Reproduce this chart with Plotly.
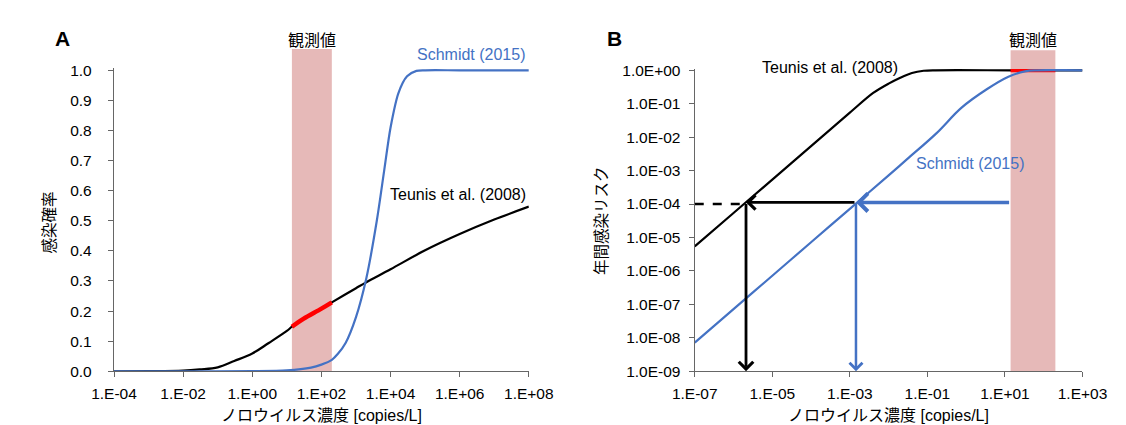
import numpy as np
import plotly.graph_objects as go

# ---------------- data ----------------
# Panel A: infection probability vs norovirus concentration
conc_a_teunis = [1e-4, 1e-3, 1e-2, 0.03, 0.1, 0.3, 1, 3, 10, 14, 30, 100, 200,
                 1e3, 2e3, 1e4, 1e5, 1e6, 1e7, 1e8]
prob_teunis = [0.0, 0.0003, 0.002, 0.006, 0.013, 0.034, 0.059, 0.094, 0.134, 0.148,
               0.174, 0.208, 0.229, 0.276, 0.296, 0.339, 0.402, 0.456, 0.504, 0.547]

conc_a_schmidt = [1e-4, 1e-2, 1, 10, 50, 100, 200, 300, 500, 1000, 2000, 4000, 6600,
                  1e4, 1.7e4, 3e4, 5.6e4, 1e5, 1e6, 1e8]
prob_schmidt = [0.0, 0.0, 0.0005, 0.003, 0.012, 0.022, 0.038, 0.058, 0.094, 0.18,
                0.31, 0.50, 0.67, 0.81, 0.925, 0.98, 0.998, 1.0, 1.0, 1.0]

# Panel B: annual infection risk vs norovirus concentration
conc_b_teunis = [1e-7, 1e-6, 1e-5, 1e-4, 1e-3, 4e-3, 1e-2, 2e-2, 4e-2, 8e-2, 0.16,
                 14, 200, 1e3]
risk_teunis = [5.4e-6, 5.4e-5, 5.4e-4, 5.4e-3, 0.054, 0.21, 0.40, 0.60, 0.83, 0.966,
               1.0, 1.0, 1.0, 1.0]

conc_b_schmidt = [1e-7, 1e-6, 1e-5, 1e-4, 1e-3, 1e-2, 0.03, 0.17, 0.75, 3.4, 12.3,
                  33, 70, 1e3]
risk_schmidt = [7.2e-9, 7.2e-8, 7.2e-7, 7.2e-6, 7.2e-5, 7.2e-4, 2.2e-3, 0.013,
                0.075, 0.27, 0.64, 0.93, 1.0, 1.0]

# observed concentration range (shaded band)
observed_range = [14, 200]

# target annual risk and the concentrations that meet it
target_risk = 1e-4
target_risk_arrow = 1.12e-4
conc_at_target_teunis = 2.1e-6
conc_at_target_schmidt = 1.44e-3

xticks_a = [1e-4, 1e-2, 1, 1e2, 1e4, 1e6, 1e8]
xticktext_a = ["1.E-04", "1.E-02", "1.E+00", "1.E+02", "1.E+04", "1.E+06", "1.E+08"]
yticks_a = [i / 10 for i in range(11)]
yticktext_a = ["0.0", "0.1", "0.2", "0.3", "0.4", "0.5", "0.6", "0.7", "0.8", "0.9", "1.0"]
xticks_b = [1e-7, 1e-5, 1e-3, 1e-1, 1e1, 1e3]
xticktext_b = ["1.E-07", "1.E-05", "1.E-03", "1.E-01", "1.E+01", "1.E+03"]
yticks_b = [1e0, 1e-1, 1e-2, 1e-3, 1e-4, 1e-5, 1e-6, 1e-7, 1e-8, 1e-9]
yticktext_b = ["1.0E+00", "1.0E-01", "1.0E-02", "1.0E-03", "1.0E-04", "1.0E-05",
               "1.0E-06", "1.0E-07", "1.0E-08", "1.0E-09"]

# ---------------- styling ----------------
W, H = 1126, 425
BLUE = "#4472C4"
RED = "#FF0000"
BAND = "#E6B9B8"
AXC = "#666666"
FONT = "Liberation Sans, Arial, Noto Sans CJK JP"
JFONT = "Liberation Sans, Noto Sans CJK JP"


def px(x):
    return x / W


def py(y):
    return 1 - y / H


fig = go.Figure()

# ---- Panel A ----
fig.add_trace(go.Scatter(x=conc_a_teunis, y=prob_teunis, mode="lines",
                         line=dict(color="black", width=2.2, shape="spline", smoothing=1.0),
                         xaxis="x", yaxis="y", hoverinfo="skip"))
ta = np.array(conc_a_teunis)
mask = (ta >= observed_range[0]) & (ta <= observed_range[1])
fig.add_trace(go.Scatter(x=ta[mask], y=np.array(prob_teunis)[mask], mode="lines",
                         line=dict(color=RED, width=4.5, shape="spline", smoothing=1.0),
                         xaxis="x", yaxis="y", hoverinfo="skip"))
fig.add_trace(go.Scatter(x=conc_a_schmidt, y=prob_schmidt, mode="lines",
                         line=dict(color=BLUE, width=2.2, shape="spline", smoothing=0.8),
                         xaxis="x", yaxis="y", hoverinfo="skip"))

# ---- Panel B ----
fig.add_trace(go.Scatter(x=[conc_b_teunis[0], conc_at_target_teunis],
                         y=[target_risk, target_risk], mode="lines",
                         line=dict(color="black", width=2.5, dash="dash"),
                         xaxis="x2", yaxis="y2", hoverinfo="skip"))
fig.add_trace(go.Scatter(x=conc_b_teunis, y=risk_teunis, mode="lines",
                         line=dict(color="black", width=2.2, shape="spline", smoothing=0.9),
                         xaxis="x2", yaxis="y2", hoverinfo="skip"))
tb = np.array(conc_b_teunis)
maskb = (tb >= observed_range[0]) & (tb <= observed_range[1])
fig.add_trace(go.Scatter(x=tb[maskb], y=np.array(risk_teunis)[maskb], mode="lines",
                         line=dict(color=RED, width=4),
                         xaxis="x2", yaxis="y2", hoverinfo="skip"))
fig.add_trace(go.Scatter(x=conc_b_schmidt, y=risk_schmidt, mode="lines",
                         line=dict(color=BLUE, width=2.2, shape="spline", smoothing=1.0),
                         xaxis="x2", yaxis="y2", hoverinfo="skip"))

# shaded bands (observed values)
for xr in ("x", "x2"):
    yr = "y domain" if xr == "x" else "y2 domain"
    fig.add_shape(type="rect", xref=xr, yref=yr,
                  x0=observed_range[0], x1=observed_range[1], y0=0, y1=1.062,
                  fillcolor=BAND, line=dict(width=0), layer="below")

# arrows in panel B
L = np.log10


def arrow(x_tip, y_tip, x_tail, y_tail, color, width):
    fig.add_annotation(x=L(x_tip), y=L(y_tip), ax=L(x_tail), ay=L(y_tail),
                       xref="x2", yref="y2", axref="x2", ayref="y2",
                       text="", showarrow=True, arrowhead=4, arrowsize=1,
                       arrowwidth=width, arrowcolor=color, standoff=0, startstandoff=0)


arrow(conc_at_target_schmidt, target_risk_arrow, observed_range[0], target_risk_arrow, BLUE, 3.5)
arrow(conc_at_target_teunis, target_risk_arrow, conc_at_target_schmidt, target_risk_arrow, "black", 2.8)
arrow(conc_at_target_teunis, 1e-9, conc_at_target_teunis, target_risk_arrow, "black", 2.8)
arrow(conc_at_target_schmidt, 1e-9, conc_at_target_schmidt, target_risk_arrow, BLUE, 2.5)

# text labels
def label(text, x, y, color="black", size=16, xanchor="center", angle=0, bold=False, family=FONT):
    if bold:
        text = "<b>" + text + "</b>"
    fig.add_annotation(text=text, x=px(x), y=py(y), xref="paper", yref="paper",
                       showarrow=False, xanchor=xanchor, yanchor="middle",
                       textangle=angle, font=dict(family=family, size=size, color=color))


label("A", 33, 24, size=21, bold=True)
label("B", 610, 24, size=21, bold=True)
label("観測値", 293, 26, family=JFONT)
label("観測値", 1047, 26, family=JFONT)
label("Schmidt (2015)", 519, 41, color=BLUE, xanchor="right")
label("Teunis et al. (2008)", 519, 186, xanchor="right")
label("Teunis et al. (2008)", 761, 54, xanchor="left")
label("Schmidt (2015)", 922, 154, color=BLUE, xanchor="left")
label("ノロウイルス濃度 [copies/L]", 303, 415, family=JFONT)
label("ノロウイルス濃度 [copies/L]", 896, 415, family=JFONT)
label("感染確率", 19, 215, angle=-90, size=15.5, family=JFONT)
label("年間感染リスク", 596, 213, angle=-90, size=15.5, family=JFONT)

# axes geometry (pixels)
ax_a_l, ax_a_r = 86.7, 520.0
ax_b_l, ax_b_r = 693.3, 1098.3
y_bot = 369.3
ya_top_range = 1.008
ya_top = 57.3 - (ya_top_range - 1.0) * 312.0
yb_top_range = 0.04
yb_top = 57.3 - yb_top_range * 34.67

common = dict(showline=True, linecolor=AXC, linewidth=1.3, ticks="outside", ticklen=5,
              tickcolor=AXC, tickwidth=1.3, showgrid=False, zeroline=False,
              tickfont=dict(family=FONT, size=15.5, color="black"), fixedrange=True)

fig.update_layout(
    width=W, height=H,
    margin=dict(l=0, r=0, t=0, b=0),
    paper_bgcolor="white", plot_bgcolor="white",
    showlegend=False,
    xaxis=dict(domain=[px(ax_a_l), px(ax_a_r)], type="log", range=[-4, 8], anchor="y",
               tickvals=xticks_a, ticktext=xticktext_a, ticklabelstandoff=3, **common),
    yaxis=dict(domain=[py(y_bot), py(ya_top)], range=[0, ya_top_range], anchor="x",
               tickvals=yticks_a, ticktext=yticktext_a, ticklabelstandoff=13, **common),
    xaxis2=dict(domain=[px(ax_b_l), px(ax_b_r)], type="log", range=[-7, 3], anchor="y2",
                tickvals=xticks_b, ticktext=xticktext_b, ticklabelstandoff=3, **common),
    yaxis2=dict(domain=[py(y_bot), py(yb_top)], type="log", range=[-9, yb_top_range],
                anchor="x2", tickvals=yticks_b, ticktext=yticktext_b,
                ticklabelstandoff=5, **common),
)

fig.write_html("out.html")
